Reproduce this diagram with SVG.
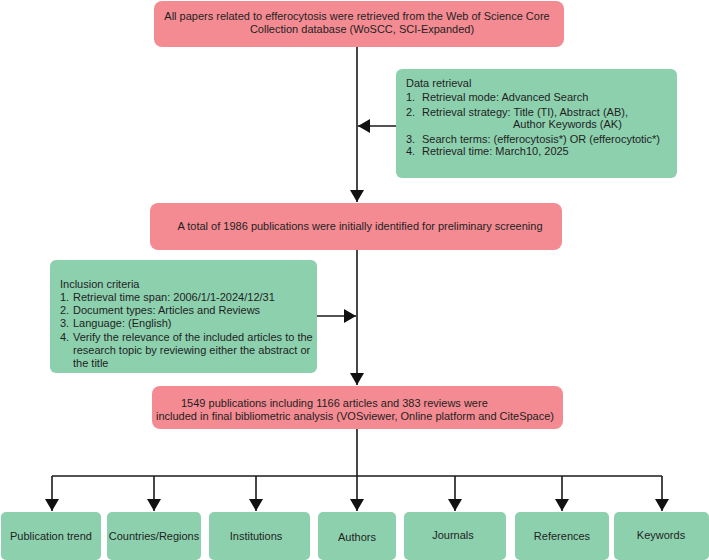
<svg xmlns="http://www.w3.org/2000/svg" width="709" height="560" viewBox="0 0 709 560">
<style>
.red{fill:#F48B92;}
.green{fill:#8DD0AE;}
text{font-family:"Liberation Sans",Arial,sans-serif;font-size:11px;fill:#1f1f1f;}
.c{text-anchor:middle;}
.ln{stroke:#1a1a1a;stroke-width:1.6;fill:none;}
.ah{fill:#111;}
</style>
<defs>
<marker id="arr" markerUnits="userSpaceOnUse" markerWidth="15" markerHeight="15" refX="12" refY="7" orient="auto">
<path class="ah" d="M0,0 L12,7 L0,14 z"/>
</marker>
</defs>
<rect width="709" height="560" fill="#fff"/>
<g id="connectors">
<line class="ln" x1="357" y1="47" x2="357" y2="202" marker-end="url(#arr)"/>
<line class="ln" x1="396" y1="126" x2="358" y2="126" marker-end="url(#arr)"/>
<line class="ln" x1="357" y1="250" x2="357" y2="385" marker-end="url(#arr)"/>
<line class="ln" x1="317" y1="316" x2="356" y2="316" marker-end="url(#arr)"/>
<line class="ln" x1="357" y1="429" x2="357" y2="476"/>
<line class="ln" x1="52" y1="476" x2="662" y2="476"/>
<line class="ln" x1="52" y1="476" x2="52" y2="511" marker-end="url(#arr)"/>
<line class="ln" x1="154" y1="476" x2="154" y2="511" marker-end="url(#arr)"/>
<line class="ln" x1="256" y1="476" x2="256" y2="511" marker-end="url(#arr)"/>
<line class="ln" x1="357" y1="476" x2="357" y2="511" marker-end="url(#arr)"/>
<line class="ln" x1="455" y1="476" x2="455" y2="511" marker-end="url(#arr)"/>
<line class="ln" x1="562" y1="476" x2="562" y2="511" marker-end="url(#arr)"/>
<line class="ln" x1="662" y1="476" x2="662" y2="511" marker-end="url(#arr)"/>
</g>
<g id="source">
<rect class="red" x="154" y="1" width="410" height="46" rx="8"/>
<text class="c" x="357" y="20">All papers related to efferocytosis were retrieved from the Web of Science Core</text>
<text class="c" x="362" y="33">Collection database (WoSCC, SCI-Expanded)</text>
</g>
<g id="data-retrieval">
<rect class="green" x="396" y="69" width="281" height="109" rx="6"/>
<text x="406" y="86.5">Data retrieval</text>
<text x="406" y="101">1.</text><text x="422" y="101">Retrieval mode: Advanced Search</text>
<text x="406" y="115.5">2.</text><text x="422" y="115.5">Retrieval strategy: Title (TI), Abstract (AB),</text>
<text x="513" y="128">Author Keywords (AK)</text>
<text x="406" y="142.5">3.</text><text x="422" y="142.5">Search terms: (efferocytosis*) OR (efferocytotic*)</text>
<text x="406" y="155">4.</text><text x="422" y="155">Retrieval time: March10, 2025</text>
</g>
<g id="identified">
<rect class="red" x="150" y="203" width="412" height="47" rx="8"/>
<text class="c" x="360" y="230">A total of 1986 publications were initially identified for preliminary screening</text>
</g>
<g id="inclusion">
<rect class="green" x="50" y="260" width="267" height="113" rx="6"/>
<text x="60" y="287.5">Inclusion criteria</text>
<text x="60" y="301">1.</text><text x="73" y="301">Retrieval time span: 2006/1/1-2024/12/31</text>
<text x="60" y="314">2.</text><text x="73" y="314">Document types: Articles and Reviews</text>
<text x="60" y="327">3.</text><text x="73" y="327">Language: (English)</text>
<text x="60" y="340.5">4.</text><text x="73" y="340.5">Verify the relevance of the included articles to the</text>
<text x="73" y="354">research topic by reviewing either the abstract or</text>
<text x="73" y="367">the title</text>
</g>
<g id="final">
<rect class="red" x="152" y="386" width="411" height="43" rx="8"/>
<text x="181" y="406.5">1549 publications including 1166 articles and 383 reviews were</text>
<text x="156" y="420">included in final bibliometric analysis (VOSviewer, Online platform and CiteSpace)</text>
</g>
<g id="publication-trend">
<rect class="green" x="1" y="512" width="100" height="48" rx="5"/>
<text class="c" x="51" y="540">Publication trend</text>
</g>
<g id="countries-regions">
<rect class="green" x="107" y="512" width="94" height="48" rx="5"/>
<text class="c" x="154" y="540">Countries/Regions</text>
</g>
<g id="institutions">
<rect class="green" x="209" y="512" width="101" height="48" rx="5"/>
<text class="c" x="256" y="540">Institutions</text>
</g>
<g id="authors">
<rect class="green" x="318" y="512" width="78" height="48" rx="5"/>
<text class="c" x="357" y="541">Authors</text>
</g>
<g id="journals">
<rect class="green" x="404" y="512" width="102" height="48" rx="5"/>
<text class="c" x="453" y="539">Journals</text>
</g>
<g id="references">
<rect class="green" x="515" y="512" width="94" height="48" rx="5"/>
<text class="c" x="562" y="540">References</text>
</g>
<g id="keywords">
<rect class="green" x="614" y="512" width="95" height="48" rx="5"/>
<text class="c" x="661" y="539">Keywords</text>
</g>
</svg>
